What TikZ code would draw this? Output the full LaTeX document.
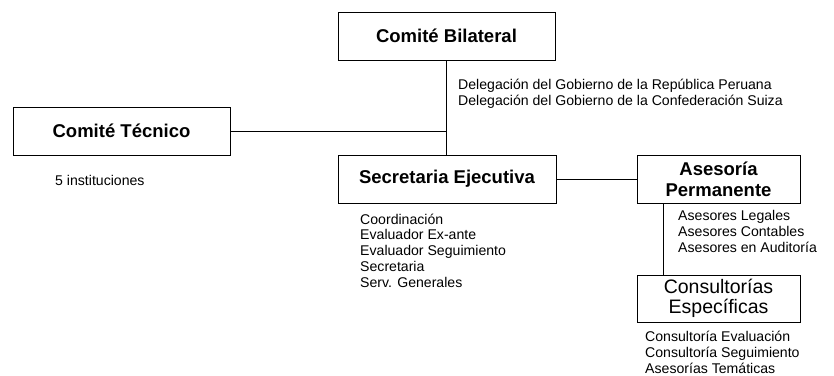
\documentclass[tikz,border=0pt]{standalone}
\usepackage{fontspec}
\setmainfont{Liberation Sans}
\begin{document}
\begin{tikzpicture}[x=1pt,y=-1pt,
  box/.style={draw, line width=0.9pt, inner sep=0pt, rectangle},
  title/.style={font=\fontsize{18.5}{21}\selectfont\bfseries, align=center},
  lst/.style={anchor=north west, inner sep=0pt, align=left, font=\fontsize{14.1}{15.8}\selectfont},
  conn/.style={line width=0.9pt}]
\useasboundingbox (0,0) rectangle (834,375);

\node[box, title, minimum width=217pt, minimum height=48pt] (bil) at (446.5,36) {Comité Bilateral};
\node[box, title, minimum width=217pt, minimum height=48pt] (tec) at (121.5,131) {Comité Técnico};
\node[box, title, minimum width=218pt, minimum height=48pt] (sec) at (447,179) {Secretaria Ejecutiva};
\node[box, title, minimum width=163pt, minimum height=48pt] (ase) at (718.5,179) {Asesoría\\Permanente};
\node[box, font=\fontsize{19.5}{20.5}\selectfont, align=center, minimum width=163pt, minimum height=47pt] (con) at (718.5,298.5) {Consultorías\\Específicas};

\draw[conn] (bil.south) -- (bil.south |- sec.north);
\draw[conn] (tec.east) -- (tec.east -| bil.south);
\draw[conn] (sec.east) -- (ase.west);
\path (ase.south west) ++(27,0) coordinate (a1);
\draw[conn] (a1) -- (a1 |- con.north);

\node[lst] (del) at (458,79) {Delegación del Gobierno de la República Peruana\\Delegación del Gobierno de la Confederación Suiza};
\node[lst] (inst) at (55,175) {5 instituciones};
\node[lst] (seclist) at (360,213.5) {Coordinación\\Evaluador Ex-ante\\Evaluador Seguimiento\\Secretaria\\Serv. Generales};
\node[lst] (aselist) at (678,210.5) {Asesores Legales\\Asesores Contables\\Asesores en Auditoría};
\node[lst] (conlist) at (645,331) {Consultoría Evaluación\\Consultoría Seguimiento\\Asesorías Temáticas};
\end{tikzpicture}
\end{document}
